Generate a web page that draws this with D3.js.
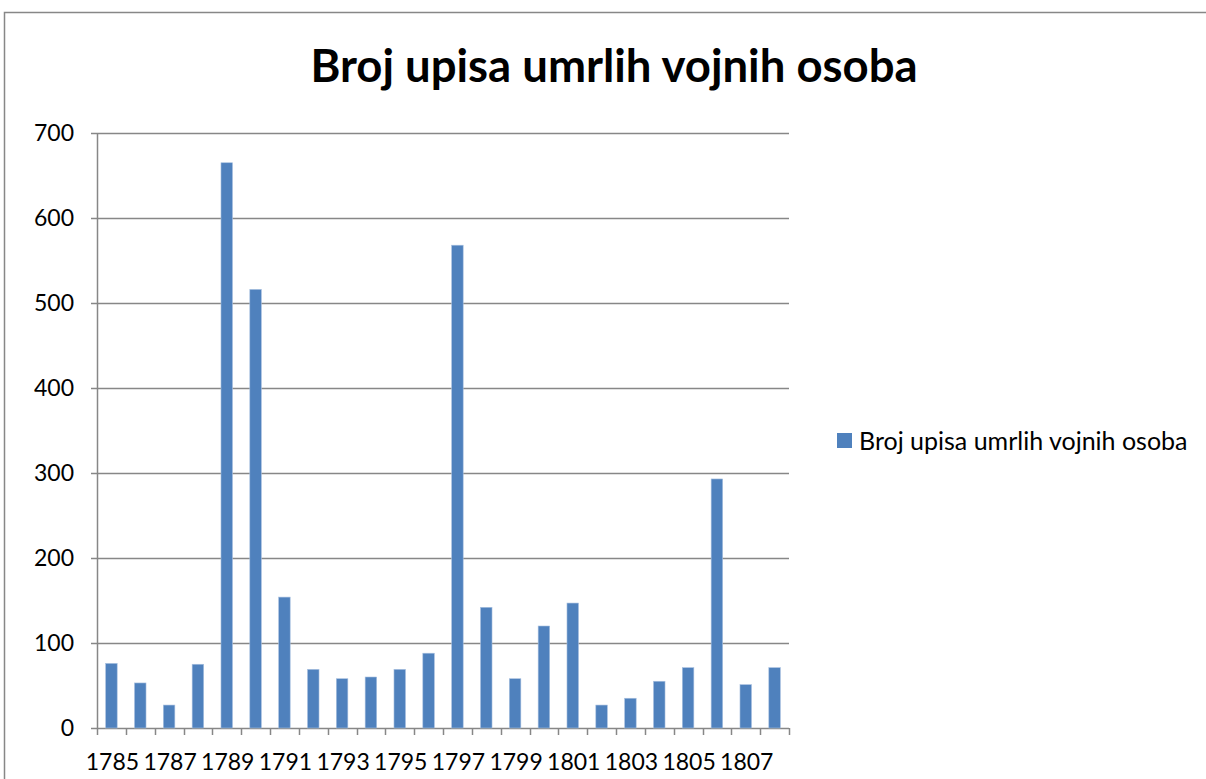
<!DOCTYPE html>
<html>
<head>
<meta charset="utf-8">
<script src="https://cdn.jsdelivr.net/npm/d3@7"></script>
<style>
  body { margin: 0; background: #fff; }
  svg text { font-family: Lato, "Open Sans", sans-serif; fill: #000; }
</style>
</head>
<body>
<div id="chart"></div>
<script>
const w = 1206
const h = 779

const title = "Broj upisa umrlih vojnih osoba"
const seriesName = "Broj upisa umrlih vojnih osoba"
const years = [1785, 1786, 1787, 1788, 1789, 1790, 1791, 1792, 1793, 1794, 1795, 1796,
	1797, 1798, 1799, 1800, 1801, 1802, 1803, 1804, 1805, 1806, 1807, 1808]
const counts = [76, 53, 27, 75, 665, 516, 154, 69, 58, 60, 69, 88,
	568, 142, 58, 120, 147, 27, 35, 55, 71, 293, 51, 71]
const yTicks = [0, 100, 200, 300, 400, 500, 600, 700]

const barColor = '#4f81bd'
const gridColor = '#878787'

let svg = d3.select('#chart')
	.append('svg')
		.attr('width', w)
		.attr('height', h)

// outer chart border (runs off the right and bottom)
svg.append('rect')
	.attr('x', 4.5)
	.attr('y', 12.5)
	.attr('width', w + 20)
	.attr('height', h + 20)
	.attr('fill', 'none')
	.attr('stroke', '#878787')
	.attr('stroke-width', 1.5)

const plot = {left: 97, right: 789, top: 133, bottom: 728}

let xScale = d3.scaleBand()
	.domain(years)
	.range([plot.left, plot.right])
	.paddingInner(0.6)
	.paddingOuter(0.3)

let xEdge = d3.scaleLinear()
	.domain([0, years.length])
	.range([plot.left, plot.right])

let yScale = d3.scaleLinear()
	.domain([0, 700])
	.range([plot.bottom, plot.top])

// gridlines
svg.append('g')
	.selectAll('line')
	.data(yTicks)
	.enter()
	.append('line')
	.attr('x1', plot.left - 6)
	.attr('x2', plot.right)
	.attr('y1', (d) => Math.round(yScale(d)) + 0.5)
	.attr('y2', (d) => Math.round(yScale(d)) + 0.5)
	.attr('stroke', gridColor)
	.attr('stroke-width', 1.5)

// y labels
svg.append('g')
	.selectAll('text')
	.data(yTicks)
	.enter()
	.append('text')
	.attr('x', 74)
	.attr('y', (d) => yScale(d))
	.attr('dy', '0.36em')
	.attr('text-anchor', 'end')
	.style('font-size', '23px')
	.text((d) => d)

// y axis line
svg.append('line')
	.attr('x1', plot.left + 0.5)
	.attr('x2', plot.left + 0.5)
	.attr('y1', plot.top)
	.attr('y2', plot.bottom)
	.attr('stroke', gridColor)
	.attr('stroke-width', 1.5)

// bars
svg.append('g')
	.selectAll('rect')
	.data(counts)
	.enter()
	.append('rect')
	.attr('x', (d, i) => xScale(years[i]))
	.attr('y', (d) => yScale(d))
	.attr('width', xScale.bandwidth())
	.attr('height', (d) => yScale(0) - yScale(d))
	.attr('fill', barColor)
	.attr('stroke', '#a9c1e0')
	.attr('stroke-width', 0.6)

// x ticks at category edges
svg.append('g')
	.selectAll('line')
	.data(d3.range(years.length + 1))
	.enter()
	.append('line')
	.attr('x1', (d) => Math.round(xEdge(d)) + 0.5)
	.attr('x2', (d) => Math.round(xEdge(d)) + 0.5)
	.attr('y1', plot.bottom)
	.attr('y2', plot.bottom + 7)
	.attr('stroke', gridColor)
	.attr('stroke-width', 1.5)

// x labels, every other year
svg.append('g')
	.selectAll('text')
	.data(years.filter((d, i) => i % 2 === 0))
	.enter()
	.append('text')
	.attr('x', (d) => xScale(d) + xScale.bandwidth() / 2 + 1)
	.attr('y', 770)
	.attr('text-anchor', 'middle')
	.style('font-size', '23px')
	.text((d) => d)

// title
svg.append('text')
	.attr('x', 614)
	.attr('y', 82)
	.attr('text-anchor', 'middle')
	.style('font-size', '45.5px')
	.style('font-weight', 'bold')
	.text(title)

// legend
svg.append('rect')
	.attr('x', 837)
	.attr('y', 433)
	.attr('width', 15)
	.attr('height', 15)
	.attr('fill', barColor)

svg.append('text')
	.attr('x', 859)
	.attr('y', 441)
	.attr('dy', '0.36em')
	.style('font-size', '25px')
	.text(seriesName)
</script>
</body>
</html>
